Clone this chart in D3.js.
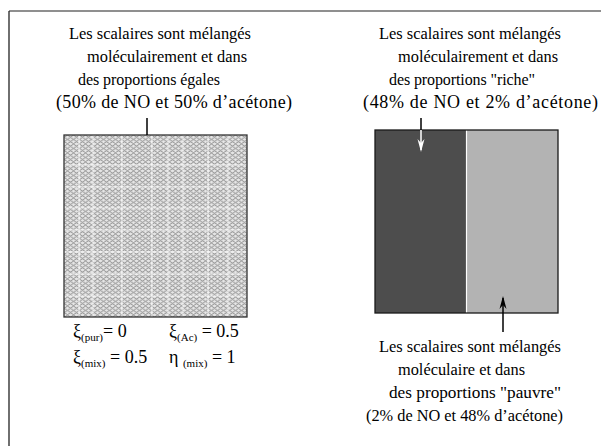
<!DOCTYPE html>
<html><head><meta charset="utf-8">
<script src="https://cdn.jsdelivr.net/npm/d3@7"></script>
<style>body{margin:0;background:#fff}svg{display:block}</style>
</head><body>
<script>
// ---- data ----
const leftLabel = ["Les scalaires sont mélangés", "moléculairement et dans", "des proportions égales", "(50% de NO et 50% d’acétone)"];
const rightTopLabel = ["Les scalaires sont mélangés", "moléculairement et dans", "des proportions \"riche\"", "(48% de NO et 2% d’acétone)"];
const rightBottomLabel = ["Les scalaires sont mélangés", "moléculaire et dans", "des proportions \"pauvre\"", "(2% de NO et 48% d’acétone)"];
const regimes = ["riche", "pauvre"];
const regimeShare = [0.5, 0.5];          // fraction of the segregated box
const regimeColor = ["#4d4d4d", "#b3b3b3"];
const formulaSym = ["ξ", "ξ", "ξ", "η "];
const formulaSub = ["(pur)", "(Ac)", "(mix)", "(mix)"];
const formulaVal = ["= 0", " = 0.5", " = 0.5", " = 1"];

// ---- layout ----
const leftX = [69, 87, 78, 56], leftW = [182, 160, 142, 236];
const rtX = [379, 398, 389, 363], rtW = [182, 160, 146, 235];
const rbX = [379, 398, 389, 366], rbW = [182, 127, 172, 197];
const gridV = [79, 93, 122, 152, 168, 183, 208, 228];
const gridH = [165, 187, 208, 230, 252, 274, 296];

const W = 601, H = 446;
const svg = d3.select("body").append("svg").attr("width", W).attr("height", H);
const font = "Liberation Serif";

// frame
svg.append("line").attr("x1", 9).attr("x2", W).attr("y1", 11).attr("y2", 11).attr("stroke", "#6a6a6a").attr("stroke-width", 1.6);
svg.append("line").attr("x1", 9).attr("x2", 9).attr("y1", 11).attr("y2", H).attr("stroke", "#222").attr("stroke-width", 1.3);

// pattern
const defs = svg.append("defs");
const pat = defs.append("pattern").attr("id", "mix").attr("patternUnits", "userSpaceOnUse")
  .attr("width", 6).attr("height", 4.5);
pat.append("rect").attr("width", 6).attr("height", 4.5).attr("fill", "#e6e6e6");
pat.append("path").attr("d", "M0,1 Q1.5,-0.6 3,1 Q4.5,2.6 6,1").attr("fill", "none").attr("stroke", "#808080").attr("stroke-width", 0.85);
pat.append("path").attr("d", "M0,3.3 Q1.5,4.9 3,3.3 Q4.5,1.7 6,3.3").attr("fill", "none").attr("stroke", "#808080").attr("stroke-width", 0.85);

// scales
const xL = d3.scaleLinear().domain([0, 1]).range([64, 247]);
const yL = d3.scaleLinear().domain([0, 1]).range([135, 317]);
const xR = d3.scaleLinear().domain([0, 1]).range([375, 558]);
const yR = d3.scaleLinear().domain([0, 1]).range([130, 313]);

// left box (perfectly mixed)
svg.append("rect").attr("x", xL(0)).attr("y", yL(0)).attr("width", xL(1) - xL(0)).attr("height", yL(1) - yL(0))
  .attr("fill", "url(#mix)");
const grid = svg.append("g").attr("stroke", "#fff").attr("stroke-width", 1.1).attr("opacity", 0.8);
grid.selectAll("line.v").data(gridV).join("line").attr("class", "v")
  .attr("x1", d => d).attr("x2", d => d).attr("y1", yL(0)).attr("y2", yL(1));
grid.selectAll("line.h").data(gridH).join("line").attr("class", "h")
  .attr("y1", d => d).attr("y2", d => d).attr("x1", xL(0)).attr("x2", xL(1));
svg.append("rect").attr("x", xL(0)).attr("y", yL(0)).attr("width", xL(1) - xL(0)).attr("height", yL(1) - yL(0))
  .attr("fill", "none").attr("stroke", "#333").attr("stroke-width", 1.3);
svg.append("line").attr("x1", 147).attr("x2", 147).attr("y1", 118).attr("y2", yL(0)).attr("stroke", "#000").attr("stroke-width", 1.5);

// right box (segregated)
const cum = d3.cumsum(regimeShare);
const segs = regimes.map((r, i) => ({ r, x0: i ? cum[i - 1] : 0, x1: cum[i], c: regimeColor[i] }));
svg.selectAll("rect.seg").data(segs).join("rect").attr("class", "seg")
  .attr("x", d => xR(d.x0)).attr("width", d => xR(d.x1) - xR(d.x0))
  .attr("y", yR(0)).attr("height", yR(1) - yR(0)).attr("fill", d => d.c);
svg.append("line").attr("x1", xR(cum[0])).attr("x2", xR(cum[0])).attr("y1", yR(0)).attr("y2", yR(1))
  .attr("stroke", "#fff").attr("stroke-width", 1.2);
svg.append("rect").attr("x", xR(0)).attr("y", yR(0)).attr("width", xR(1) - xR(0)).attr("height", yR(1) - yR(0))
  .attr("fill", "none").attr("stroke", "#1a1a1a").attr("stroke-width", 1.3);

// arrows
const ax1 = 421;
svg.append("line").attr("x1", ax1).attr("x2", ax1).attr("y1", 118).attr("y2", yR(0)).attr("stroke", "#000").attr("stroke-width", 1.5);
svg.append("line").attr("x1", ax1).attr("x2", ax1).attr("y1", yR(0)).attr("y2", 150).attr("stroke", "#fff").attr("stroke-width", 1.5);
svg.append("path").attr("d", `M${ax1 - 3.5},${139} L${ax1},${152} L${ax1 + 3.5},${139} L${ax1},${143}Z`).attr("fill", "#fff");
const ax2 = 503;
svg.append("line").attr("x1", ax2).attr("x2", ax2).attr("y1", 332).attr("y2", 298).attr("stroke", "#000").attr("stroke-width", 1.5);
svg.append("path").attr("d", `M${ax2 - 3.5},${309} L${ax2},${296} L${ax2 + 3.5},${309} L${ax2},${305}Z`).attr("fill", "#000");

// text blocks: font size near 16px, spacing stretched so each line spans the original width
function block(lines, xs, ws, y0) {
  svg.append("g").selectAll("text").data(lines).join("text")
    .attr("x", (d, i) => xs[i]).attr("y", (d, i) => y0 + i * 23)
    .style("font-family", font).attr("font-size", 16).attr("fill", "#000")
    .text(d => d)
    .each(function (d, i) {
      const w = this.getComputedTextLength();
      const fs = Math.max(16, Math.min(18, 16 * ws[i] / w));
      d3.select(this).attr("font-size", fs.toFixed(2))
        .attr("textLength", ws[i]).attr("lengthAdjust", "spacing");
    });
}
block(leftLabel, leftX, leftW, 39);
block(rightTopLabel, rtX, rtW, 39);
block(rightBottomLabel, rbX, rbW, 352);

// formulas
const fX = [73, 169, 73, 169], fY = [337, 337, 363, 363];
formulaSym.forEach((s, i) => {
  const t = svg.append("text").attr("x", fX[i]).attr("y", fY[i]).style("font-family", font).attr("font-size", 18);
  t.append("tspan").text(s);
  t.append("tspan").attr("font-size", 11).attr("dy", 4).text(formulaSub[i]);
  t.append("tspan").attr("dy", -4).text(formulaVal[i]);
});
</script>
</body></html>
